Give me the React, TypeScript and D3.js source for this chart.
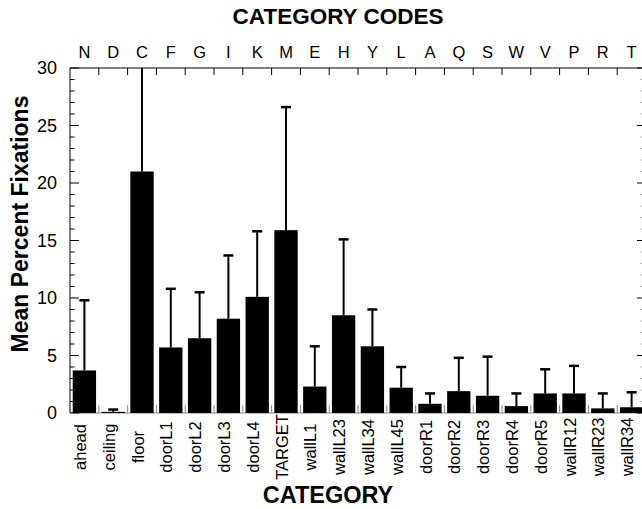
import React from 'react';
import * as d3 from 'd3';

const codes = ['N', 'D', 'C', 'F', 'G', 'I', 'K', 'M', 'E', 'H', 'Y', 'L', 'A', 'Q', 'S', 'W', 'V', 'P', 'R', 'T'];
const categories = ['ahead', 'ceiling', 'floor', 'doorL1', 'doorL2', 'doorL3', 'doorL4', 'TARGET', 'wallL1', 'wallL23',
  'wallL34', 'wallL45', 'doorR1', 'doorR2', 'doorR3', 'doorR4', 'doorR5', 'wallR12', 'wallR23', 'wallR34'];
const means = [3.7, 0.1, 21.0, 5.7, 6.5, 8.2, 10.1, 15.9, 2.3, 8.5, 5.8, 2.2, 0.8, 1.9, 1.5, 0.6, 1.7, 1.7, 0.4, 0.5];
const errors = [6.1, 0.2, 11, 5.1, 4.0, 5.5, 5.7, 10.7, 3.5, 6.6, 3.2, 1.8, 0.9, 2.9, 3.4, 1.1, 2.1, 2.4, 1.3, 1.3];
const yTicks = [0, 5, 10, 15, 20, 25, 30];

const width = 642, height = 509;
const margin = { top: 68, right: -4, bottom: 96, left: 70 };
const font = 'Liberation Sans, Arial, Helvetica, sans-serif';

export default function App() {
  const x = d3.scaleBand()
    .domain(categories)
    .range([margin.left, width - margin.right])
    .paddingInner(0.19)
    .paddingOuter(0.095);

  const y = d3.scaleLinear()
    .domain([0, 30])
    .range([height - margin.bottom, margin.top]);

  const step = x.step();
  const x0 = margin.left, x1 = width - margin.right;
  const y0 = y(0), y1 = y(30);
  const minor = d3.range(0, 31);
  const bounds = d3.range(1, categories.length).map(i => x0 + i * step);
  const data = categories.map((c, i) => ({ cat: c, code: codes[i], mean: means[i], err: errors[i] }));

  return (
    <svg width={width} height={height} style={{ position: 'absolute', left: 0, top: 0, background: '#fff' }}
      fontFamily={font}>
      <defs>
        <clipPath id="plot">
          <rect x={x0} y={y1} width={x1 - x0} height={y0 - y1} />
        </clipPath>
      </defs>

      {/* titles */}
      <text x={338} y={24} textAnchor="middle" fontWeight="bold" fontSize={22.5}>CATEGORY CODES</text>
      <text x={328} y={503} textAnchor="middle" fontWeight="bold" fontSize={23.5}>CATEGORY</text>
      <text transform={`translate(28,224) rotate(-90)`} textAnchor="middle" fontWeight="bold" fontSize={23}>
        Mean Percent Fixations
      </text>

      {/* top axis with codes */}
      <line x1={x0} x2={x1} y1={y1} y2={y1} stroke="#000" strokeWidth={1} />
      {bounds.map(b => (
        <line key={'tt' + b} x1={b} x2={b} y1={y1} y2={y1 + 7} stroke="#000" strokeWidth={1} />
      ))}
      {data.map(d => (
        <text key={'c' + d.code} x={x(d.cat)! + x.bandwidth() / 2} y={58} textAnchor="middle" fontSize={16.5}>
          {d.code}
        </text>
      ))}

      {/* bottom axis */}
      <line x1={x0} x2={x1} y1={y0} y2={y0} stroke="#888" strokeWidth={1} />
      {bounds.map(b => (
        <line key={'bt' + b} x1={b} x2={b} y1={y0} y2={y0 - 8} stroke="#888" strokeWidth={1} />
      ))}
      {data.map(d => (
        <text key={'l' + d.cat} textAnchor="middle" fontSize={16.5}
          transform={`translate(${x(d.cat)! + x.bandwidth() / 2 + 1.5},447) rotate(-90)`}>
          {d.cat}
        </text>
      ))}

      {/* left axis */}
      <line x1={x0} x2={x0} y1={y1} y2={y0} stroke="#000" strokeWidth={1} />
      {minor.map(v => (
        <line key={'lt' + v} x1={x0} x2={x0 + (v % 5 === 0 ? 9 : 4.5)} y1={y(v)} y2={y(v)} stroke="#000" strokeWidth={1} />
      ))}
      {yTicks.map(v => (
        <text key={'yl' + v} x={57} y={y(v)} dy="0.35em" textAnchor="end" fontSize={18}>{v}</text>
      ))}

      {/* right axis (mostly off the page) */}
      <line x1={x1} x2={x1} y1={y1} y2={y0} stroke="#000" strokeWidth={1} />
      {minor.map(v => (
        <line key={'rt' + v} x1={x1} x2={x1 - (v % 5 === 0 ? 9 : 4.5)} y1={y(v)} y2={y(v)} stroke="#000" strokeWidth={1} />
      ))}

      {/* bars */}
      {data.map(d => (
        <rect key={'b' + d.cat} x={x(d.cat)} y={y(d.mean)} width={x.bandwidth()} height={y0 - y(d.mean)} fill="#000" />
      ))}

      {/* error bars */}
      <g clipPath="url(#plot)">
        {data.map(d => {
          const cx = x(d.cat)! + x.bandwidth() / 2;
          const top = y(d.mean + d.err);
          return (
            <g key={'e' + d.cat}>
              <line x1={cx} x2={cx} y1={y(d.mean)} y2={top} stroke="#000" strokeWidth={2} />
              <line x1={cx - 5} x2={cx + 5} y1={top} y2={top} stroke="#000" strokeWidth={2.5} />
            </g>
          );
        })}
      </g>
    </svg>
  );
}
